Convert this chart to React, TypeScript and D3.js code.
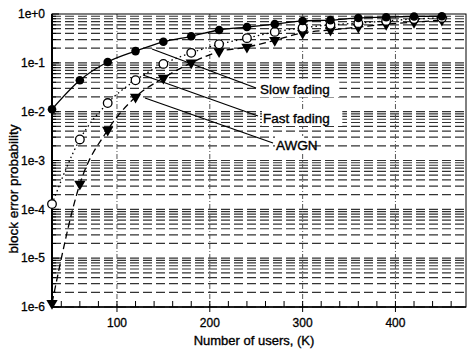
import React, { useRef, useEffect } from 'react';
import * as d3 from 'd3';

// number of users (K)
const users = [30, 60, 90, 120, 150, 180, 210, 240, 270, 300, 330, 360, 390, 420, 450];

// block error probability for each channel
const slowFading = [0.0112, 0.044, 0.104, 0.174, 0.27, 0.35, 0.47, 0.54, 0.62, 0.72, 0.75, 0.83, 0.86, 0.89, 0.9];
const fastFading = [1.28e-4, 2.7e-3, 0.015, 0.044, 0.095, 0.16, 0.24, 0.32, 0.43, 0.52, 0.6, 0.65, 0.72, 0.79, 0.83];
const awgn = [1.2e-6, 3.3e-4, 4.2e-3, 0.02, 0.049, 0.1, 0.17, 0.21, 0.29, 0.41, 0.47, 0.54, 0.62, 0.68, 0.75];

const xTicks = [100, 200, 300, 400];
const yTicks = [1, 1e-1, 1e-2, 1e-3, 1e-4, 1e-5, 1e-6];
const yTickLabels = ['1e+0', '1e-1', '1e-2', '1e-3', '1e-4', '1e-5', '1e-6'];

const App: React.FC = () => {
  const svgRef = useRef<SVGSVGElement>(null);

  const width = 469;
  const height = 349;
  const marginTop = 14;
  const marginLeft = 52;
  const plotRight = 466;
  const plotBottom = 307;
  const font = 'Liberation Sans, Arial, sans-serif';

  const x = d3.scaleLinear().domain([30, 476]).range([marginLeft, plotRight]);
  const y = d3.scaleLog().domain([1e-6, 1]).range([plotBottom, marginTop]);

  useEffect(() => {
    if (!svgRef.current) return;
    const svg = d3.select(svgRef.current);
    svg.selectAll('*').remove();

    // horizontal grid at every log step
    const gridVals: number[] = [];
    for (let k = -6; k < 0; k++) {
      for (let m = 1; m < 10; m++) gridVals.push(m * Math.pow(10, k));
    }
    svg.append('g')
      .selectAll('line')
      .data(gridVals)
      .join('line')
      .attr('x1', marginLeft)
      .attr('x2', plotRight)
      .attr('y1', (d) => y(d))
      .attr('y2', (d) => y(d))
      .attr('stroke', '#333')
      .attr('stroke-width', 1.2)
      .attr('stroke-dasharray', '9,4');

    // vertical grid
    svg.append('g')
      .selectAll('line')
      .data(xTicks)
      .join('line')
      .attr('x1', (d) => x(d))
      .attr('x2', (d) => x(d))
      .attr('y1', marginTop)
      .attr('y2', plotBottom)
      .attr('stroke', '#555')
      .attr('stroke-dasharray', '5,2,1,2');

    // frame
    svg.append('rect')
      .attr('x', marginLeft)
      .attr('y', marginTop)
      .attr('width', plotRight - marginLeft)
      .attr('height', plotBottom - marginTop)
      .attr('fill', 'none')
      .attr('stroke', '#000')
      .attr('stroke-width', 1);
    svg.append('line')
      .attr('x1', marginLeft).attr('x2', marginLeft)
      .attr('y1', marginTop).attr('y2', plotBottom)
      .attr('stroke', '#000').attr('stroke-width', 2);
    svg.append('line')
      .attr('x1', marginLeft).attr('x2', plotRight)
      .attr('y1', plotBottom).attr('y2', plotBottom)
      .attr('stroke', '#000').attr('stroke-width', 1.5);

    // x ticks, minor every 20
    const xMinor = d3.range(40, 476, 20);
    svg.append('g')
      .selectAll('line')
      .data(xMinor)
      .join('line')
      .attr('x1', (d) => x(d))
      .attr('x2', (d) => x(d))
      .attr('y1', plotBottom - 6)
      .attr('y2', (d) => (d % 100 === 0 ? plotBottom + 5 : plotBottom))
      .attr('stroke', '#000');

    // y ticks
    svg.append('g')
      .selectAll('line')
      .data(gridVals.concat([1]))
      .join('line')
      .attr('x1', marginLeft)
      .attr('x2', (d) => (Math.abs(Math.log10(d) - Math.round(Math.log10(d))) < 1e-6 ? marginLeft + 7 : marginLeft + 4))
      .attr('y1', (d) => y(d))
      .attr('y2', (d) => y(d))
      .attr('stroke', '#000');

    // tick labels
    svg.append('g')
      .selectAll('text')
      .data(yTicks)
      .join('text')
      .attr('x', 45)
      .attr('y', (d) => y(d))
      .attr('dy', '0.35em')
      .attr('text-anchor', 'end')
      .attr('font-family', font)
      .attr('font-size', 12)
      .attr('stroke', '#000')
      .attr('stroke-width', 0.3)
      .text((d, i) => yTickLabels[i]);

    svg.append('g')
      .selectAll('text')
      .data(xTicks)
      .join('text')
      .attr('x', (d) => x(d))
      .attr('y', 327)
      .attr('text-anchor', 'middle')
      .attr('font-family', font)
      .attr('font-size', 12)
      .attr('stroke', '#000')
      .attr('stroke-width', 0.3)
      .text((d) => d);

    // axis titles
    svg.append('text')
      .attr('x', 254)
      .attr('y', 345)
      .attr('text-anchor', 'middle')
      .attr('font-family', font)
      .attr('font-size', 13)
      .attr('stroke', '#000')
      .attr('stroke-width', 0.35)
      .text('Number of users, (K)');

    svg.append('text')
      .attr('transform', 'translate(18,189) rotate(-90)')
      .attr('text-anchor', 'middle')
      .attr('font-family', font)
      .attr('font-size', 13.5)
      .attr('stroke', '#000')
      .attr('stroke-width', 0.35)
      .text('block error probability');

    // series lines
    const line = d3.line<[number, number]>()
      .x((d) => x(d[0]))
      .y((d) => y(d[1]))
      .curve(d3.curveMonotoneX);

    const series = [
      { values: slowFading, dash: null, marker: 'filled' },
      { values: fastFading, dash: '1.5,3', marker: 'open' },
      { values: awgn, dash: '7,4', marker: 'triangle' },
    ];

    series.forEach((s) => {
      const pts = users.map((u, i) => [u, s.values[i]] as [number, number]);
      svg.append('path')
        .datum(pts)
        .attr('d', line)
        .attr('fill', 'none')
        .attr('stroke', '#000')
        .attr('stroke-width', 1.3)
        .attr('stroke-dasharray', s.dash);
    });

    // markers
    const sym = (type: d3.SymbolType, size: number) => d3.symbol().type(type).size(size)();
    svg.append('g')
      .selectAll('path')
      .data(users.map((u, i) => [u, awgn[i]]))
      .join('path')
      .attr('d', sym(d3.symbolTriangle, 55))
      .attr('transform', (d) => `translate(${x(d[0])},${y(d[1])}) rotate(180)`)
      .attr('fill', '#000');

    svg.append('g')
      .selectAll('circle')
      .data(users.map((u, i) => [u, fastFading[i]]))
      .join('circle')
      .attr('cx', (d) => x(d[0]))
      .attr('cy', (d) => y(d[1]))
      .attr('r', 4.3)
      .attr('fill', '#fff')
      .attr('stroke', '#000')
      .attr('stroke-width', 1.3);

    svg.append('g')
      .selectAll('circle')
      .data(users.map((u, i) => [u, slowFading[i]]))
      .join('circle')
      .attr('cx', (d) => x(d[0]))
      .attr('cy', (d) => y(d[1]))
      .attr('r', 4.3)
      .attr('fill', '#000');

    // annotations
    const notes = [
      { text: 'Slow fading', x1: 152, y1: 49, x2: 256, y2: 88, tx: 260, ty: 89 },
      { text: 'Fast fading', x1: 143, y1: 75, x2: 258, y2: 116, tx: 263, ty: 118 },
      { text: 'AWGN', x1: 145, y1: 98, x2: 273, y2: 143, tx: 276, ty: 145 },
    ];
    notes.forEach((n) => {
      svg.append('line')
        .attr('x1', n.x1).attr('y1', n.y1)
        .attr('x2', n.x2).attr('y2', n.y2)
        .attr('stroke', '#000')
        .attr('stroke-width', 1.3);
      svg.append('rect')
        .attr('x', n.tx - 1)
        .attr('y', n.ty - 9)
        .attr('width', n.text.length * 7.3)
        .attr('height', 17)
        .attr('fill', '#fff');
      svg.append('text')
        .attr('x', n.tx)
        .attr('y', n.ty)
        .attr('dy', '0.35em')
        .attr('font-family', font)
        .attr('font-size', 13.5)
        .attr('stroke', '#000')
        .attr('stroke-width', 0.35)
        .text(n.text);
    });
  }, []);

  return (
    <svg
      ref={svgRef}
      width={width}
      height={height}
      style={{ position: 'absolute', left: 0, top: 0, background: '#fff' }}
    />
  );
};

export default App;
